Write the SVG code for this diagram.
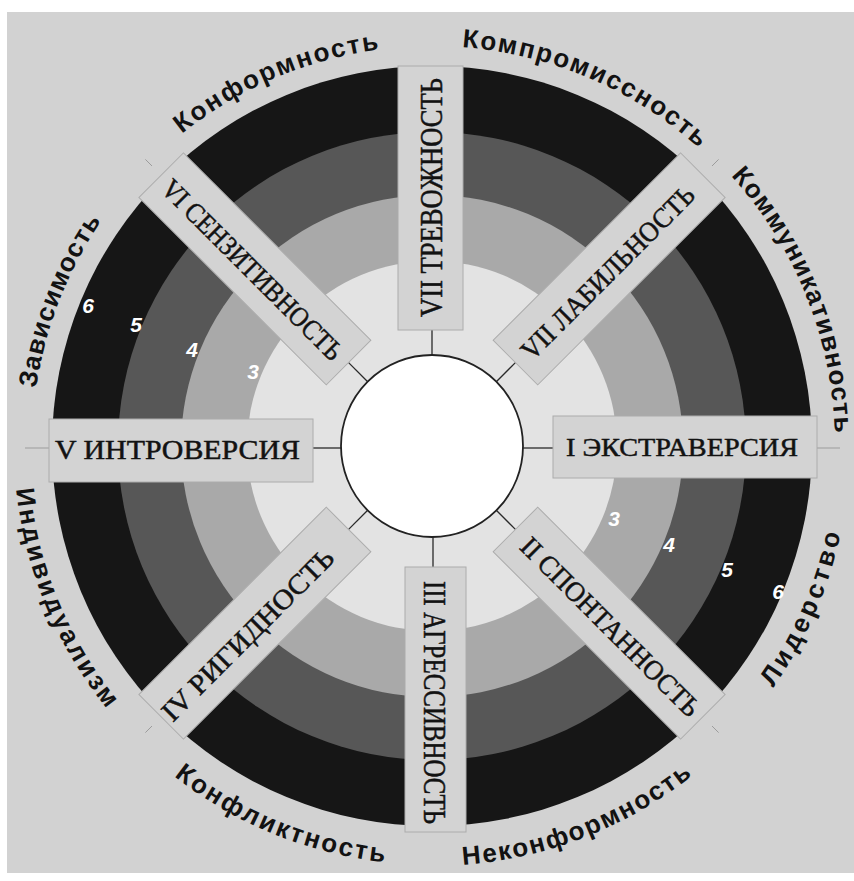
<svg xmlns="http://www.w3.org/2000/svg" width="854" height="881" viewBox="0 0 854 881">
<style>
.box{fill:#d3d3d3;stroke:#acacac;stroke-width:1}
.lbl{font-family:"Liberation Serif","Times New Roman",serif;fill:#121212;stroke:#121212;stroke-width:0.5}
.out{font-family:"Liberation Sans",Arial,sans-serif;font-weight:bold;font-size:26px;fill:#121212}
.num{font-family:"Liberation Sans",Arial,sans-serif;font-weight:bold;font-style:italic;font-size:21px;fill:#ffffff;text-anchor:middle}
.tick{stroke:#2a2a2a;stroke-width:1.3;fill:none}
.ftick{stroke:#9c9c9c;stroke-width:1;fill:none}
</style>
<defs>
<path id="p-konf" d="M181.9,133.8 A400,400 0 0 1 379.1,49.5"/>
<path id="p-komp" d="M462.0,47.1 A400,400 0 0 1 698.6,147.8"/>
<path id="p-komm" d="M731.0,175.8 A403,403 0 0 1 834.8,433.3"/>
<path id="p-zav" d="M36.2,388.2 A400,400 0 0 1 101.2,221.2"/>
<path id="p-ind" d="M16.2,489.0 A418,418 0 0 0 106.7,708.5"/>
<path id="p-konfl" d="M174.0,776.2 A419,419 0 0 0 383.9,862.2"/>
<path id="p-nekonf" d="M462.8,864.9 A420,420 0 0 0 692.3,775.6"/>
<path id="p-lid" d="M773.1,687.6 A418,418 0 0 0 840.7,533.6"/>
</defs>
<rect x="0" y="0" width="854" height="881" fill="#ffffff"/>
<rect x="7" y="12" width="847" height="861" fill="#d2d2d2"/>
<g id="rings">
<circle cx="432" cy="446" r="380" fill="#161616"/>
<circle cx="432" cy="446" r="314" fill="#575757"/>
<circle cx="432" cy="446" r="251" fill="#a9a9a9"/>
<circle cx="432" cy="446" r="185" fill="#e3e3e3"/>
</g>
<g id="numbers">
<text class="num" x="88" y="313">6</text>
<text class="num" x="136" y="332">5</text>
<text class="num" x="192" y="357">4</text>
<text class="num" x="253" y="379">3</text>
<text class="num" x="614" y="526">3</text>
<text class="num" x="669" y="552">4</text>
<text class="num" x="727" y="577">5</text>
<text class="num" x="778" y="599">6</text>
</g>
<g id="connectors">
<line class="tick" x1="432" y1="330" x2="432" y2="355"/>
<line class="tick" x1="433" y1="537" x2="433" y2="567"/>
<line class="tick" x1="313" y1="448" x2="341" y2="448"/>
<line class="tick" x1="523" y1="448" x2="553" y2="448"/>
<line class="tick" x1="367.7" y1="381.7" x2="348.6" y2="362.6"/>
<line class="tick" x1="496.3" y1="381.7" x2="515.4" y2="362.6"/>
<line class="tick" x1="496.3" y1="510.3" x2="515.4" y2="529.4"/>
<line class="tick" x1="367.7" y1="510.3" x2="348.6" y2="529.4"/>
<line class="ftick" x1="25" y1="448" x2="49" y2="448"/>
<line class="ftick" x1="817" y1="448" x2="840" y2="448"/>
<line class="ftick" x1="152.0" y1="166.0" x2="145.4" y2="159.4"/>
<line class="ftick" x1="712.0" y1="166.0" x2="718.6" y2="159.4"/>
<line class="ftick" x1="712.0" y1="726.0" x2="718.6" y2="732.6"/>
<line class="ftick" x1="152.0" y1="726.0" x2="145.4" y2="732.6"/>
</g>
<g id="node-I">
<rect class="box" x="553" y="416" width="264" height="62"/>
<text class="lbl" x="566" y="456" font-size="26" textLength="232" lengthAdjust="spacingAndGlyphs">I ЭКСТРАВЕРСИЯ</text>
</g>
<g id="node-II">
<rect class="box" x="118" y="-31.5" width="265" height="63" transform="translate(432,446) rotate(45)"/>
<text class="lbl" font-size="28" text-anchor="middle" transform="translate(610,627) rotate(45)" y="9" textLength="241" lengthAdjust="spacingAndGlyphs">II СПОНТАННОСТЬ</text>
</g>
<g id="node-III">
<rect class="box" x="405" y="567" width="61" height="265"/>
<text class="lbl" font-size="31" transform="translate(424,581) rotate(90)" textLength="243" lengthAdjust="spacingAndGlyphs">III АГРЕССИВНОСТЬ</text>
</g>
<g id="node-IV">
<rect class="box" x="118" y="-31.5" width="265" height="63" transform="translate(432,446) rotate(135)"/>
<text class="lbl" font-size="28" text-anchor="middle" transform="translate(248,635) rotate(-45)" y="9" textLength="231" lengthAdjust="spacingAndGlyphs">IV РИГИДНОСТЬ</text>
</g>
<g id="node-V">
<rect class="box" x="49" y="419" width="264" height="63"/>
<text class="lbl" x="55" y="459" font-size="28" textLength="245" lengthAdjust="spacingAndGlyphs">V ИНТРОВЕРСИЯ</text>
</g>
<g id="node-VI">
<rect class="box" x="118" y="-31.5" width="265" height="63" transform="translate(432,446) rotate(-135)"/>
<text class="lbl" font-size="28" text-anchor="middle" transform="translate(252,270) rotate(45)" y="9" textLength="243" lengthAdjust="spacingAndGlyphs">VI СЕНЗИТИВНОСТЬ</text>
</g>
<g id="node-VII">
<rect class="box" x="398" y="66" width="65" height="264"/>
<text class="lbl" font-size="31" transform="translate(442,317) rotate(-90)" textLength="239" lengthAdjust="spacingAndGlyphs">VII ТРЕВОЖНОСТЬ</text>
</g>
<g id="node-VIII">
<rect class="box" x="118" y="-31.5" width="265" height="63" transform="translate(432,446) rotate(-45)"/>
<text class="lbl" font-size="28" text-anchor="middle" transform="translate(608,273) rotate(-45)" y="9" textLength="233" lengthAdjust="spacingAndGlyphs">VII ЛАБИЛЬНОСТЬ</text>
</g>
<g id="center">
<circle cx="432" cy="446" r="91" fill="#ffffff" stroke="#222222" stroke-width="1.8"/>
</g>
<g id="sector-labels">
<text class="out"><textPath href="#p-konf" textLength="217" lengthAdjust="spacing">Конформность</textPath></text>
<text class="out"><textPath href="#p-komp" textLength="262" lengthAdjust="spacing">Компромиссность</textPath></text>
<text class="out"><textPath href="#p-komm" textLength="283" lengthAdjust="spacing">Коммуникативность</textPath></text>
<text class="out"><textPath href="#p-zav" textLength="181" lengthAdjust="spacing">Зависимость</textPath></text>
<text class="out"><textPath href="#p-ind" textLength="241" lengthAdjust="spacing">Индивидуализм</textPath></text>
<text class="out"><textPath href="#p-konfl" textLength="230" lengthAdjust="spacing">Конфликтность</textPath></text>
<text class="out"><textPath href="#p-nekonf" textLength="250" lengthAdjust="spacing">Неконформность</textPath></text>
<text class="out"><textPath href="#p-lid" textLength="169" lengthAdjust="spacing">Лидерство</textPath></text>
</g>
</svg>
